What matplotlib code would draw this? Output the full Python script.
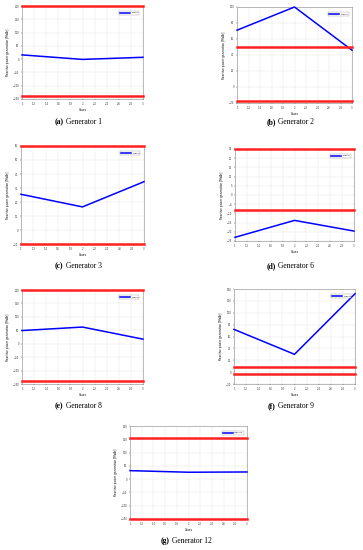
import matplotlib
matplotlib.use("Agg")
import matplotlib.pyplot as plt
import numpy as np

# ---- data ----
cases = [1, 2, 3]

gen_names = ["1", "2", "3", "6", "8", "9", "12"]
panel_tags = ["(a)", "(b)", "(c)", "(d)", "(e)", "(f)", "(g)"]

q_gen1 = [16, -1, 7]
q_gen2 = [71, 100, 46]
q_gen3 = [25.5, 16.5, 34.5]
q_gen6 = [-23, -13.8, -19.6]
q_gen8 = [49, 62, 17]
q_gen9 = [72, 30, 132]
q_gen12 = [32, 26, 27]

q_max = [200, 50, 60, 25, 200, 9, 155]
q_min = [-140, -17, -10, -8, -140, -3, -150]

y_lims = [(-150, 200), (-20, 100), (-10, 60), (-25, 25),
          (-150, 200), (-20, 140), (-150, 200)]
y_steps = [50, 20, 10, 5, 50, 20, 50]

x_ticks = [1, 1.2, 1.4, 1.6, 1.8, 2, 2.2, 2.4, 2.6, 2.8, 3]

series = [q_gen1, q_gen2, q_gen3, q_gen6, q_gen8, q_gen9, q_gen12]

# axes boxes in pixels: left, top, right, bottom ; caption y
W, H = 363, 550
boxes = [(22, 6, 143, 99, 122),
         (237, 7, 352, 103, 122),
         (21, 146, 144, 244, 266),
         (235, 149, 354, 241, 266),
         (22, 290, 143, 384, 406),
         (234, 289, 355, 384, 406),
         (130, 426, 247, 519, 541)]

fig = plt.figure(figsize=(W / 100, H / 100), dpi=100)

for i, (l, t, r, b, cy) in enumerate(boxes):
    ax = fig.add_axes([l / W, 1 - b / H, (r - l) / W, (b - t) / H])
    ax.plot(cases, series[i], color="#0000ff", lw=1.1, label="Gen " + gen_names[i],
            clip_on=False, zorder=3)
    # reactive power limits
    ax.axhline(q_max[i], color="#ff2020", lw=1.8, clip_on=False, zorder=3)
    ax.axhline(q_min[i], color="#ff2020", lw=1.8, clip_on=False, zorder=3)
    lo, hi = y_lims[i]
    ax.set_xlim(1, 3)
    ax.set_ylim(lo, hi)
    ax.set_xticks(x_ticks)
    ax.set_xticklabels([f"{v:g}" for v in x_ticks])
    ax.set_yticks(np.arange(lo, hi + 0.1, y_steps[i]))
    ax.tick_params(labelsize=1.8, length=1, width=0.3, pad=1, colors="#333333")
    ax.grid(True, ls=":", lw=0.3, color="#bbbbbb")
    for s in ax.spines.values():
        s.set_linewidth(0.4)
        s.set_color("#888888")
    ax.set_xlabel("Cases", fontsize=2, labelpad=1.5)
    ax.set_ylabel("Reactive power generation [MVAr]", fontsize=2, labelpad=2)
    leg = ax.legend(loc="upper right", fontsize=1.6, handlelength=4.5, frameon=True,
                    fancybox=False, edgecolor="#888888", borderpad=0.5,
                    bbox_to_anchor=(0.98, 0.96))
    leg.get_frame().set_linewidth(0.3)

    cx = (l + r) / 2 / W
    fig.text(cx - 0.052, 1 - cy / H, panel_tags[i], fontsize=5.5, weight="bold",
             family="Liberation Serif", ha="right", va="center")
    fig.text(cx - 0.045, 1 - cy / H, "Generator " + gen_names[i], fontsize=5.5,
             family="Liberation Serif", ha="left", va="center")

fig.savefig("out.png", dpi=100)
